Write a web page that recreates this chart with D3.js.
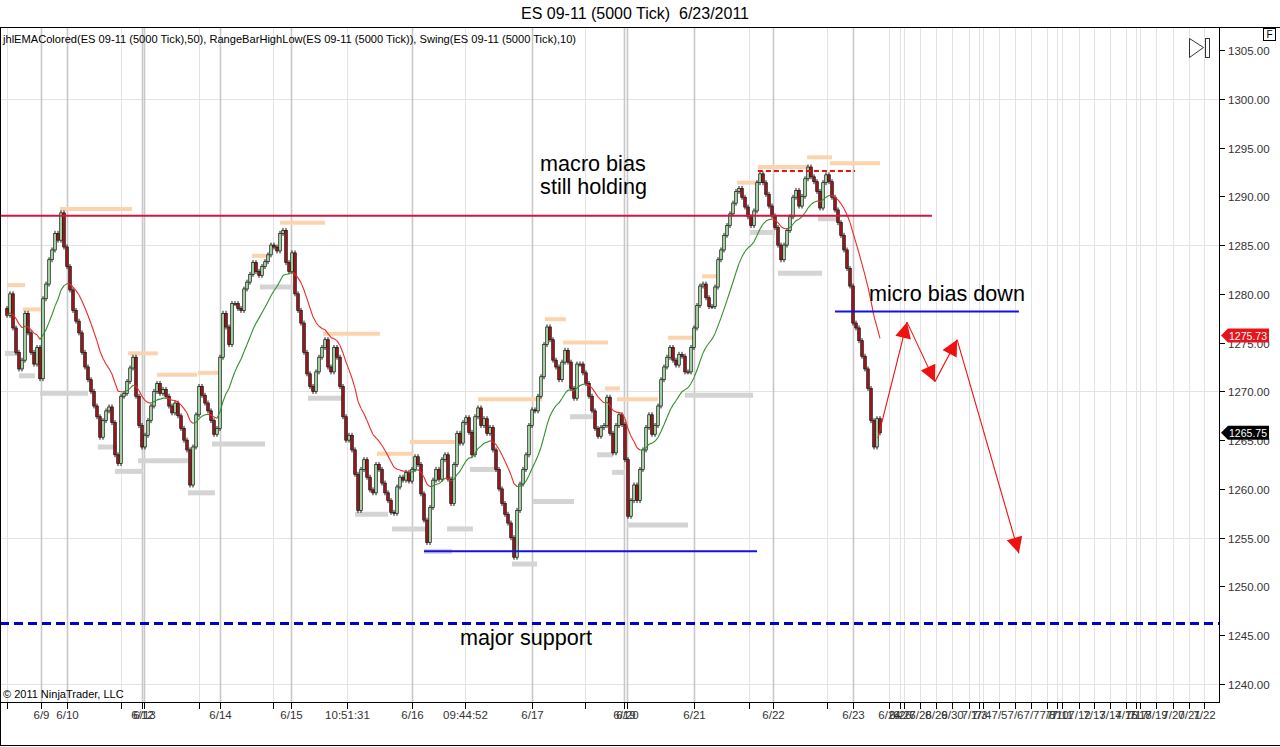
<!DOCTYPE html>
<html><head><meta charset="utf-8">
<script src="https://cdn.jsdelivr.net/npm/d3@7"></script>
<style>html,body{margin:0;padding:0;background:#fff;}svg{display:block;}</style>
</head><body>
<script>
// ---------- DATA ----------
const title = "ES 09-11 (5000 Tick)  6/23/2011";
const legendText = "jhlEMAColored(ES 09-11 (5000 Tick),50), RangeBarHighLow(ES 09-11 (5000 Tick)), Swing(ES 09-11 (5000 Tick),10)";
const copyright = "\u00A9 2011 NinjaTrader, LLC";
const firstOpen = 1278.5;
const closes = [
1277.8,1280.0,1276.5,1274.0,1272.3,1273.2,1278.0,1276.0,1274.0,1272.8,
1274.5,1271.3,1279.5,1281.0,1283.5,1284.5,1286.2,1285.5,1288.3,1284.8,
1282.8,1280.4,1278.3,1277.2,1276.0,1274.0,1272.5,1271.2,1270.0,1268.5,
1267.4,1265.3,1267.0,1268.0,1268.4,1266.8,1263.5,1262.6,1269.5,1269.8,
1271.0,1272.4,1273.5,1269.5,1266.5,1264.3,1265.5,1267.0,1268.5,1270.0,
1270.8,1269.8,1270.2,1269.5,1268.5,1267.8,1268.8,1267.5,1266.2,1265.0,
1264.0,1260.4,1264.3,1267.6,1270.5,1269.6,1268.8,1268.0,1267.0,1265.6,
1266.2,1273.5,1278.0,1276.6,1274.8,1279.0,1279.0,1278.5,1278.3,1280.5,
1281.2,1282.0,1283.2,1282.3,1281.9,1282.8,1283.3,1284.0,1285.0,1284.8,
1284.4,1286.2,1286.5,1283.2,1282.3,1284.2,1280.0,1278.3,1277.0,1274.0,
1271.8,1270.5,1270.0,1272.0,1273.5,1274.5,1275.3,1272.5,1272.0,1274.5,
1273.5,1270.5,1267.4,1265.0,1265.5,1264.0,1261.5,1257.8,1262.0,1263.0,
1261.2,1259.9,1259.6,1262.5,1262.0,1260.6,1259.6,1258.8,1257.6,1257.5,
1260.2,1261.2,1260.9,1261.7,1260.8,1262.0,1263.3,1262.5,1259.5,1256.8,
1254.5,1258.1,1260.9,1262.0,1261.0,1263.0,1263.5,1261.0,1258.5,1262.5,
1265.7,1264.7,1266.8,1267.3,1265.8,1263.5,1267.4,1268.3,1266.5,1267.2,
1265.7,1266.3,1264.0,1262.0,1260.0,1258.5,1257.4,1256.5,1255.0,1253.0,
1257.8,1260.5,1262.0,1263.5,1266.5,1268.1,1268.0,1269.5,1271.5,1274.8,
1276.6,1275.3,1273.2,1272.5,1271.2,1273.0,1274.2,1273.0,1270.3,1269.3,
1272.8,1272.8,1271.9,1270.8,1269.5,1268.0,1266.2,1265.4,1266.3,1266.5,
1269.4,1265.7,1263.7,1266.5,1267.6,1266.6,1263.0,1257.2,1258.8,1260.4,
1258.8,1262.0,1264.0,1266.3,1267.6,1265.6,1266.5,1268.5,1271.2,1272.5,
1273.5,1274.5,1273.2,1272.7,1273.8,1273.6,1272.0,1272.0,1274.5,1276.5,
1278.8,1280.8,1281.0,1279.6,1278.7,1278.7,1280.7,1283.5,1284.5,1286.0,
1287.0,1288.2,1289.3,1290.5,1290.8,1289.9,1288.9,1287.9,1287.0,1288.5,
1291.4,1292.3,1291.4,1290.2,1289.0,1288.0,1286.8,1285.0,1283.5,1285.0,
1286.5,1287.9,1289.9,1290.6,1289.0,1290.0,1291.8,1293.0,1292.0,1291.5,
1290.5,1288.8,1291.4,1292.2,1291.5,1289.9,1288.6,1287.3,1286.0,1284.5,
1282.6,1280.8,1277.0,1276.5,1275.2,1273.6,1272.3,1270.3,1267.0,1264.3,
1267.2,1265.75
];
const emaPeriod = 18;
const yTickValues = [1240,1245,1250,1255,1260,1265,1270,1275,1280,1285,1290,1295,1300,1305];
const yGridValues = [1240,1255,1270,1285,1300];
// x ticks: bar index position, label, kind
const xTickPos = [0,11.33,20,38,45,45.67,64,71,88.67,94.67,113.33,135,152.67,175,192.67,205.67,206.67,229,247.33,255.33,273.33,282,
  294,297.67,299,304.33,309.67,315,320.67,324,325.33,330.67,336,341.33,346.67,350,351.67,357.33,362.33,367.67,373,376.33,377.67,383,388.67,394,399];
const xTickLabels = ["","6/9","6/10","","6/12","6/13","","6/14","","6/15","10:51:31","6/16","09:44:52","6/17","","6/19","6/20","6/21","","6/22","","6/23",
  "6/24","6/26","6/27","6/28","6/29","6/30","7/1","7/3","7/4","7/5","7/6","7/7","7/8","7/10","7/11","7/12","7/13","7/14","7/15","7/17","7/18","7/19","7/20","7/21","7/22"];
const xTickDay = [0,1,1,0,1,1,0,1,0,1,0,1,0,1,0,1,1,1,0,1,0,1, 0,0,0,0,0,0,0,0,0,0,0,0,0,0,0,0,0,0,0,0,0,0,0,0,0];
// swing highs / lows: start index, end index, price
const swingHighs = [[0,6,1280.9],[5.3,11.7,1278.4],[17.7,41.7,1288.7],[40.3,50.3,1273.9],[50,63.3,1271.7],[63.7,71,1271.9],
  [81.7,86.7,1283.9],[91,106,1287.3],[105.3,124.3,1275.9],[123.3,135.3,1263.6],[134.3,149.3,1264.8],[157,178.3,1269.2],
  [179.3,186.3,1277.4],[185.3,200.3,1275.0],[199.3,204.3,1270.3],[203.3,217,1269.2],[220.3,228.7,1275.5],[231.7,237,1281.8],
  [243.3,250.3,1291.4],[250.3,267,1293.0],[266.7,275,1294.0],[274.3,291,1293.4]];
const swingLows = [[-0.7,3.7,1273.9],[4,9.3,1271.6],[11,27,1269.8],[30.3,36.7,1264.3],[36,45.3,1261.8],[43.7,60.3,1262.9],
  [60.3,69.3,1259.6],[68.3,86,1264.6],[84.3,95.3,1280.7],[100.3,112,1269.3],[116,127,1257.4],[128.3,140.3,1255.9],
  [139,148.3,1253.6],[146.7,155.3,1255.9],[154.3,163.3,1262.0],[168.3,176.7,1252.3],[175.3,189,1258.7],[187.7,195.3,1267.4],
  [196.7,202,1263.5],[201.7,206,1261.7],[206.7,227,1256.3],[226,248.7,1269.6],[247.7,256,1286.3],[257,271.7,1282.1],[270.3,276.7,1287.7]];
// drawn horizontal lines: start index, end index, price
const macroLine = [-2.4, 308.3, 1288.0];
const rangeHighLine = [250.3, 282.7, 1292.6];
const lowBlueLine = [139, 250, 1253.6];
const microLine = [276, 337.3, 1278.2];
const majorSupport = 1246.2;
// projected path (index, price)
const arrowPath = [[290.3,1265.2],[300,1277.1],[309.3,1271.0],[316.7,1275.3],[337.3,1253.4]];
// text notes: text, index, price(baseline)
const notes = [["macro bias",177.7,1292.6],["still holding",177.7,1290.2],["micro bias down",287.3,1279.3],["major support",151,1244.0]];
const tags = [[1275.73,"#e8141c"],[1265.75,"#000000"]];

// ---------- DRAW ----------
const W = 1280, H = 747;
const plot = {left:0, right:1219, top:28, bottom:702};
const FONT = "Arial, 'Liberation Sans', sans-serif";
const svg = d3.select("body").append("svg").attr("width",W).attr("height",H).style("font-family",FONT);
svg.append("rect").attr("width",W).attr("height",H).attr("fill","#fff");

const x = d3.scaleLinear().domain([0, closes.length-1]).range([7, 880]);
const y = d3.scaleLinear().domain([1240,1305]).range([684,50]);

svg.append("defs").append("clipPath").attr("id","pc").append("rect")
  .attr("x",plot.left).attr("y",plot.top).attr("width",plot.right-plot.left).attr("height",plot.bottom-plot.top);
const g = svg.append("g").attr("clip-path","url(#pc)");

// grid
g.selectAll("line.hg").data(yGridValues).join("line").attr("x1",plot.left).attr("x2",plot.right)
  .attr("y1",d=>Math.round(y(d))+0.5).attr("y2",d=>Math.round(y(d))+0.5).attr("stroke","#e3e3e3").attr("stroke-width",1);
const xt = xTickPos.map((p,k)=>({p, label:xTickLabels[k], day:xTickDay[k]}));
g.selectAll("line.vg").data(xt).join("line")
  .attr("x1",d=>Math.round(x(d.p))+0.5).attr("x2",d=>Math.round(x(d.p))+0.5).attr("y1",plot.top).attr("y2",plot.bottom)
  .attr("stroke",d=>d.day?"#c8c8c8":"#e3e3e3").attr("stroke-width",d=>d.day?1.6:1);

// swings
g.selectAll("line.sh").data(swingHighs).join("line").attr("x1",d=>x(d[0])).attr("x2",d=>x(d[1]))
  .attr("y1",d=>y(d[2])).attr("y2",d=>y(d[2])).attr("stroke","#fdd3ad").attr("stroke-width",4);
g.selectAll("line.sl").data(swingLows).join("line").attr("x1",d=>x(d[0])).attr("x2",d=>x(d[1]))
  .attr("y1",d=>y(d[2])).attr("y2",d=>y(d[2])).attr("stroke","#d4d4d4").attr("stroke-width",5);

// EMA
const alpha = 2/(emaPeriod+1);
const ema = [];
closes.forEach((c,i)=>{ ema.push(i===0 ? c : ema[i-1] + alpha*(c-ema[i-1])); });

// candles
const bars = closes.map((c,i)=>({i, o: i===0?firstOpen:closes[i-1], c}));
const bw = 2.6, wickExt = 2.5;
g.selectAll("line.wick").data(bars).join("line").attr("x1",d=>x(d.i)).attr("x2",d=>x(d.i))
  .attr("y1",d=>y(Math.max(d.o,d.c))-wickExt).attr("y2",d=>y(Math.min(d.o,d.c))+wickExt).attr("stroke","#000").attr("stroke-width",0.9);
g.selectAll("rect.bar").data(bars).join("rect")
  .attr("x",d=>x(d.i)-bw/2).attr("width",bw)
  .attr("y",d=>y(Math.max(d.o,d.c))).attr("height",d=>Math.max(1, Math.abs(y(d.o)-y(d.c))))
  .attr("fill",d=>d.c>=d.o?"#a6dba6":"#a3161b").attr("stroke","#111").attr("stroke-width",0.7);

// EMA colored segments
const segs = [];
for(let i=1;i<ema.length;i++) segs.push({a:i-1,b:i,up:ema[i]>=ema[i-1]});
g.selectAll("line.ema").data(segs).join("line")
  .attr("x1",d=>x(d.a)).attr("x2",d=>x(d.b)).attr("y1",d=>y(ema[d.a])).attr("y2",d=>y(ema[d.b]))
  .attr("stroke",d=>d.up?"#2f8f2f":"#ee2a2a").attr("stroke-width",1.1);

// drawn lines
function hline(arr, color, w, dash){
  g.append("line").attr("x1",x(arr[0])).attr("x2",x(arr[1])).attr("y1",y(arr[2])).attr("y2",y(arr[2]))
   .attr("stroke",color).attr("stroke-width",w).attr("stroke-dasharray",dash||null);
}
hline(macroLine, "#d2163f", 2);
hline(rangeHighLine, "#e81010", 2, "5,3");
hline(lowBlueLine, "#1212e6", 2);
hline(microLine, "#1212e6", 2);
g.append("line").attr("x1",plot.left).attr("x2",plot.right).attr("y1",y(majorSupport)).attr("y2",y(majorSupport))
  .attr("stroke","#0000cc").attr("stroke-width",3).attr("stroke-dasharray","9,5");

// arrows
for(let k=1;k<arrowPath.length;k++){
  const x0=x(arrowPath[k-1][0]), y0=y(arrowPath[k-1][1]), x1=x(arrowPath[k][0]), y1=y(arrowPath[k][1]);
  g.append("line").attr("x1",x0).attr("y1",y0).attr("x2",x1).attr("y2",y1).attr("stroke","#f01010").attr("stroke-width",1.1);
  const ang=Math.atan2(y1-y0,x1-x0), L=16, Wd=8;
  const bx=x1-L*Math.cos(ang), by=y1-L*Math.sin(ang);
  const pts=[[x1,y1],[bx+Wd*Math.sin(ang),by-Wd*Math.cos(ang)],[bx-Wd*Math.sin(ang),by+Wd*Math.cos(ang)]];
  g.append("polygon").attr("points",pts.map(p=>p.join(",")).join(" ")).attr("fill","#f01010");
}

// notes
svg.selectAll("text.note").data(notes).join("text").attr("x",d=>x(d[1])).attr("y",d=>y(d[2]))
  .attr("font-size",21.6).attr("fill","#000").text(d=>d[0]);

// frame / axes
svg.append("line").attr("x1",0).attr("x2",W).attr("y1",27.5).attr("y2",27.5).attr("stroke","#000");
svg.append("line").attr("x1",0.5).attr("x2",0.5).attr("y1",27.5).attr("y2",745).attr("stroke","#000");
svg.append("line").attr("x1",0).attr("x2",W).attr("y1",745.5).attr("y2",745.5).attr("stroke","#000");
svg.append("line").attr("x1",plot.right+0.5).attr("x2",plot.right+0.5).attr("y1",27.5).attr("y2",plot.bottom+0.5).attr("stroke","#000");
svg.append("line").attr("x1",0).attr("x2",plot.right+1).attr("y1",plot.bottom+0.5).attr("y2",plot.bottom+0.5).attr("stroke","#000");

// y axis
const yAxis = svg.append("g");
yTickValues.forEach(v=>{
  const yy=Math.round(y(v))+0.5;
  yAxis.append("line").attr("x1",plot.right).attr("x2",plot.right+6).attr("y1",yy).attr("y2",yy).attr("stroke","#000");
  yAxis.append("text").attr("x",plot.right+9).attr("y",yy+4).attr("font-size",11.5).attr("fill","#333").text(v.toFixed(2));
});
// x axis
const xAxis = svg.append("g");
xt.forEach(d=>{
  const xx=Math.round(x(d.p))+0.5;
  xAxis.append("line").attr("x1",xx).attr("x2",xx).attr("y1",plot.bottom).attr("y2",plot.bottom+7).attr("stroke","#000");
  if(d.label) xAxis.append("text").attr("x",xx).attr("y",plot.bottom+17).attr("text-anchor","middle").attr("font-size",11.5).attr("fill","#333").text(d.label);
});

// value tags
tags.forEach(([v,col])=>{
  const yy=y(v);
  svg.append("polygon").attr("points",[[plot.right+2,yy],[plot.right+9,yy-7],[1269,yy-7],[1269,yy+7],[plot.right+9,yy+7]].map(p=>p.join(",")).join(" "))
    .attr("fill",col);
  svg.append("text").attr("x",plot.right+10).attr("y",yy+4.5).attr("font-size",11.5).attr("fill","#fff")
    .attr("textLength",38).attr("lengthAdjust","spacingAndGlyphs").text(v.toFixed(2));
});

// title & texts
svg.append("text").attr("x",635).attr("y",19).attr("text-anchor","middle").attr("font-size",16).attr("fill","#000")
  .attr("xml:space","preserve").style("white-space","pre").text(title);
svg.append("text").attr("x",3).attr("y",43).attr("font-size",11).attr("fill","#000").attr("textLength",573).attr("lengthAdjust","spacingAndGlyphs").text(legendText);
svg.append("text").attr("x",3).attr("y",698).attr("font-size",11).attr("fill","#000").text(copyright);

// F box and end icon
svg.append("rect").attr("x",1263.5).attr("y",28.5).attr("width",12).attr("height",12).attr("fill","#fff").attr("stroke","#000");
svg.append("text").attr("x",1269.5).attr("y",38).attr("text-anchor","middle").attr("font-size",10).text("F");
svg.append("polygon").attr("points","1189.5,38.5 1203.5,47.5 1189.5,57.5").attr("fill","none").attr("stroke","#333");
svg.append("rect").attr("x",1205.5).attr("y",38.5).attr("width",4).attr("height",19).attr("fill","#fff").attr("stroke","#333");
</script>
</body></html>
